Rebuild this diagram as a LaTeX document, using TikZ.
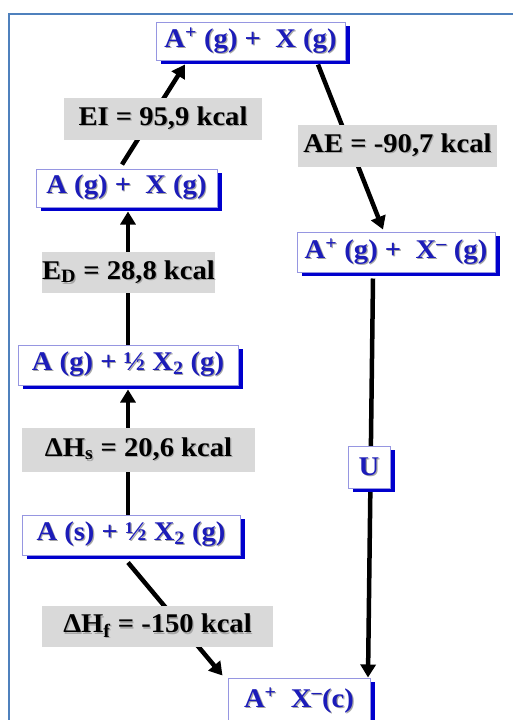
\documentclass[tikz,border=0pt]{standalone}
\usepackage{fontspec}
\setmainfont{Liberation Serif}[FakeStretch=1.06]
\usetikzlibrary{arrows.meta,shadows,calc}
\definecolor{framecol}{RGB}{79,129,189}
\definecolor{chemblue}{RGB}{28,28,185}
\definecolor{boxline}{RGB}{150,150,225}
\definecolor{shadowblue}{RGB}{0,0,205}
\definecolor{labgray}{RGB}{217,217,217}
\newcommand{\shd}[1]{\rlap{\kern1.2pt\raisebox{-1.2pt}{\textcolor{black!35}{#1}}}#1}
\pgfdeclarelayer{bg}
\pgfsetlayers{bg,main}
\tikzset{
  chem/.style={draw=boxline, line width=1pt, fill=white, text=chemblue,
    font=\bfseries\fontsize{27}{30}\selectfont, inner sep=0pt,
    general shadow={fill=shadowblue, shadow xshift=5pt, shadow yshift=-4pt}},
  lab/.style={fill=labgray, text=black, font=\bfseries\fontsize{27}{30}\selectfont, inner sep=0pt},
  arr/.style={line width=4.5pt, black, -{Triangle[length=13pt,width=15pt]}}
}
\begin{document}
\begin{tikzpicture}
\useasboundingbox (0,0) rectangle (512pt,-720pt);
\draw[framecol, line width=1.6pt] (9pt,-722pt) -- (9pt,-14pt) -- (514pt,-14pt);

% chemical boxes
\node[chem, minimum width=189pt, minimum height=38pt] (top) at (250.5pt,-41pt)
  {\shd{A\textsuperscript{+} (g) +\ \ X (g)}};
\node[chem, minimum width=181pt, minimum height=38pt] (agx) at (126.5pt,-188pt)
  {\shd{A (g) +\ \ X (g)}};
\node[chem, minimum width=198pt, minimum height=40pt] (agxm) at (396pt,-252pt)
  {\shd{A\textsuperscript{+} (g) +\ \ X\textsuperscript{\char"2013} (g)}};
\node[chem, minimum width=220pt, minimum height=40pt] (ag2) at (128pt,-365pt)
  {\shd{A (g) + ½ X\textsubscript{2} (g)}};
\node[chem, minimum width=218pt, minimum height=40pt] (as2) at (131pt,-535pt)
  {\shd{A (s) + ½ X\textsubscript{2} (g)}};
\node[chem, minimum width=42pt, minimum height=42pt] (u) at (369pt,-467pt)
  {\shd{U}};
\node[chem, minimum width=142pt, minimum height=46pt] (axc) at (299pt,-701pt)
  {\shd{A\textsuperscript{+}\ \ X\textsuperscript{\char"2013}(c)}};

% labels
\node[lab, minimum width=198pt, minimum height=42pt] (ei) at (163pt,-119pt)
  {\shd{EI = 95,9 kcal}};
\node[lab, minimum width=199pt, minimum height=42pt] (ae) at (397.5pt,-146pt)
  {\shd{AE = -90,7 kcal}};
\node[lab, minimum width=171pt, minimum height=41pt] (ed) at (128.5pt,-272.5pt)
  {\shd{E\textsubscript{D} = 28,8 kcal}};
\node[lab, minimum width=233pt, minimum height=44pt] (hs) at (138.5pt,-449.5pt)
  {\shd{ΔH\textsubscript{s} = 20,6 kcal}};
\node[lab, minimum width=231pt, minimum height=41pt] (hf) at (157.5pt,-626.5pt)
  {\shd{ΔH\textsubscript{f} = -150 kcal}};

% connectors
\begin{pgfonlayer}{bg}
\draw[arr] ($(agx.north)+(-4.5pt,4pt)$) -- ($(top.south)+(-65.5pt,-4pt)$);
\draw[arr] ($(top.south)+(67.5pt,-4pt)$) -- ($(agxm.north)+(-13pt,2pt)$);
\draw[arr] (ag2.north) -- ([yshift=-4pt]ag2.north |- agx.south);
\draw[arr] ($(as2.north)+(-3pt,0)$) -- ([xshift=-3pt,yshift=-4pt]as2.north |- ag2.south);
\draw[arr] ($(as2.south)+(-3pt,-7pt)$) -- ($(axc.north west)+(-5pt,2pt)$);
\draw[arr] ($(agxm.south)+(-23pt,-6pt)$) -- ($(axc.north)+(69pt,0)$);
\end{pgfonlayer}
\end{tikzpicture}
\end{document}
